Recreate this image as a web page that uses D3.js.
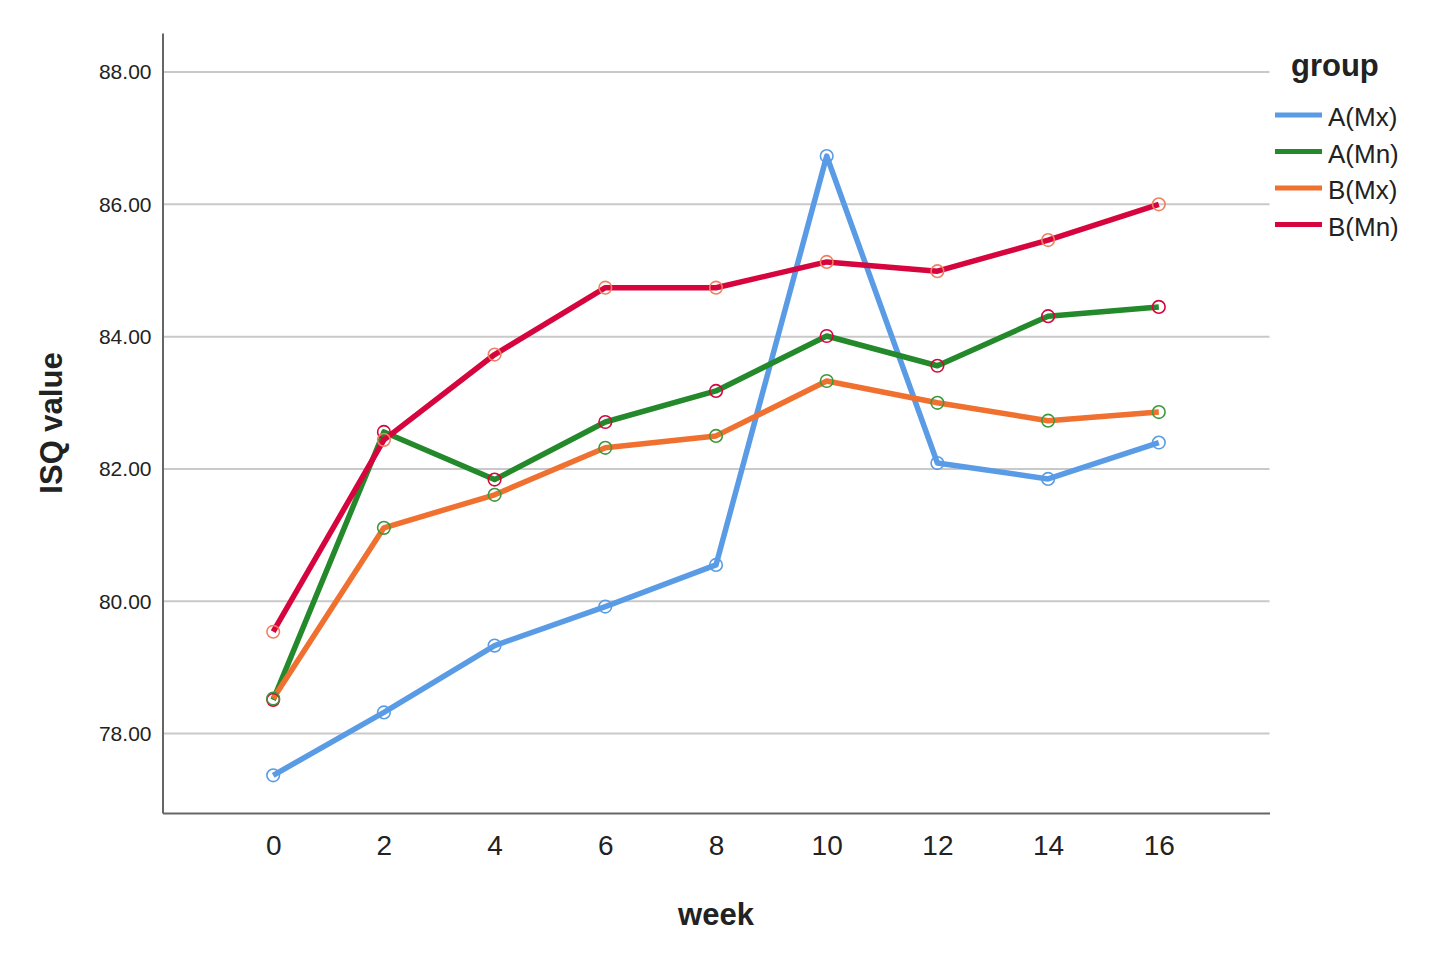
<!DOCTYPE html>
<html><head><meta charset="utf-8">
<script src="https://cdn.jsdelivr.net/npm/d3@7"></script>
<style>body{margin:0;background:#fff}svg{display:block}</style>
</head><body>
<svg id="c" width="1454" height="957"></svg>
<script>
const weeks = [0, 2, 4, 6, 8, 10, 12, 14, 16];
const seriesNames = ["A(Mx)", "A(Mn)", "B(Mx)", "B(Mn)"];
const aMx = [77.37, 78.32, 79.33, 79.92, 80.55, 86.73, 82.09, 81.85, 82.40];
const aMn = [78.51, 82.56, 81.84, 82.71, 83.18, 84.01, 83.56, 84.31, 84.45];
const bMx = [78.53, 81.11, 81.61, 82.32, 82.50, 83.33, 83.00, 82.73, 82.86];
const bMn = [79.54, 82.44, 83.73, 84.74, 84.74, 85.13, 84.99, 85.46, 86.00];
const yTicks = [78, 80, 82, 84, 86, 88];
const lineColors = ["#5a9be6", "#23892a", "#f07030", "#d6053e"];
const markerColors = ["#5a9be6", "#d6053e", "#3c9a3c", "#f08060"];

const svg = d3.select("#c");
const L = 162.5, R = 1269.5, T = 33, B = 813;
const FF = "Liberation Sans, Arial, sans-serif";
const x = d3.scaleLinear().domain([-2, 18]).range([L, R]);
const y = d3.scaleLinear().domain([76.8, 88.59]).range([B, T]);

// gridlines
svg.append("g").selectAll("line").data(yTicks).join("line")
  .attr("x1", L).attr("x2", R).attr("y1", d => y(d)).attr("y2", d => y(d))
  .attr("stroke", "#c9c9c9").attr("stroke-width", 2);

// axes
const yAxis = d3.axisLeft(y).tickValues(yTicks).tickSize(0).tickPadding(11).tickFormat(d3.format(".2f"));
const gy = svg.append("g").attr("transform", `translate(${L},0)`).call(yAxis);
gy.select(".domain").attr("stroke", "#666").attr("stroke-width", 2);
gy.selectAll("text").attr("font-family", FF).attr("font-size", 21).attr("fill", "#222");

const xAxis = d3.axisBottom(x).tickValues(weeks).tickSize(0).tickPadding(22);
const gx = svg.append("g").attr("transform", `translate(0,${B})`).call(xAxis);
gx.select(".domain").attr("stroke", "#666").attr("stroke-width", 2);
gx.selectAll("text").attr("font-family", FF).attr("font-size", 28).attr("fill", "#222");

// axis titles
svg.append("text").attr("x", 716).attr("y", 925).attr("text-anchor", "middle")
  .attr("font-family", FF).attr("font-weight", "bold").attr("font-size", 31).attr("fill", "#222").text("week");
svg.append("text").attr("transform", "translate(62,423) rotate(-90)").attr("text-anchor", "middle")
  .attr("font-family", FF).attr("font-weight", "bold").attr("font-size", 31).attr("fill", "#222").text("ISQ value");

// series
const data = [aMx, aMn, bMx, bMn];
const line = d3.line().x((d, i) => x(weeks[i])).y(d => y(d));
data.forEach((vals, si) => {
  svg.append("path").datum(vals).attr("d", line).attr("fill", "none")
    .attr("stroke", lineColors[si]).attr("stroke-width", 5.5).attr("stroke-linejoin", "round");
});
data.forEach((vals, si) => {
  svg.append("g").selectAll("circle").data(vals).join("circle")
    .attr("cx", (d, i) => x(weeks[i])).attr("cy", d => y(d)).attr("r", 6.3)
    .attr("fill", "none").attr("stroke", markerColors[si]).attr("stroke-width", 1.6);
});

// legend
svg.append("text").attr("x", 1291).attr("y", 76)
  .attr("font-family", FF).attr("font-weight", "bold").attr("font-size", 31).attr("fill", "#222").text("group");
const lg = svg.append("g").selectAll("g").data(seriesNames).join("g")
  .attr("transform", (d, i) => `translate(0,${115 + i * 36.5})`);
lg.append("line").attr("x1", 1275).attr("x2", 1322).attr("y1", 0).attr("y2", 0)
  .attr("stroke", (d, i) => lineColors[i]).attr("stroke-width", 5);
lg.append("text").attr("x", 1328).attr("y", 11).text(d => d)
  .attr("font-family", FF).attr("font-size", 26).attr("fill", "#222");
</script>
</body></html>
